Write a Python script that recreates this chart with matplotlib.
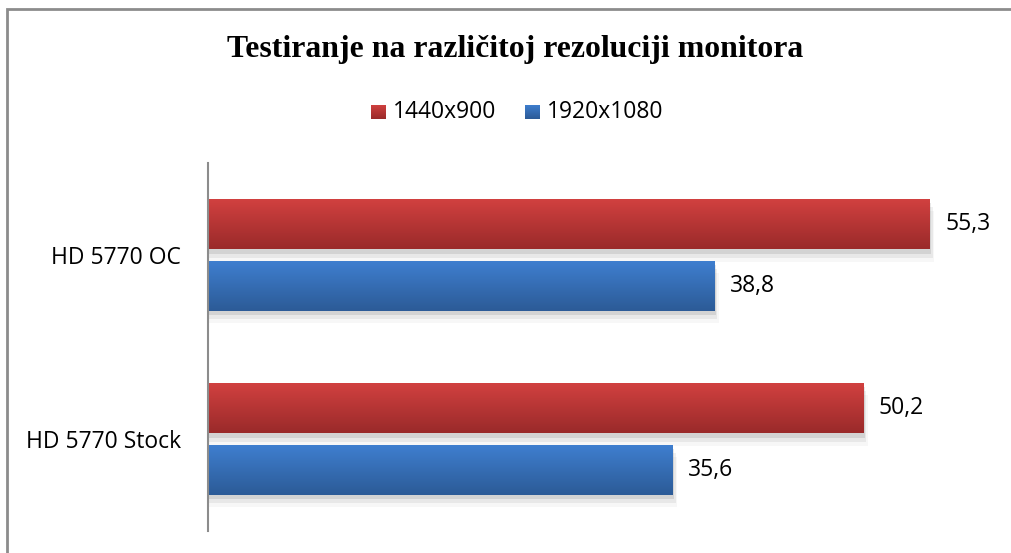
import numpy as np
import matplotlib
matplotlib.use("Agg")
import matplotlib.pyplot as plt
from matplotlib.patches import Rectangle
from matplotlib.colors import LinearSegmentedColormap

categories = ["HD 5770 OC", "HD 5770 Stock"]
series = ["1440x900", "1920x1080"]
res_1440 = [55.3, 50.2]
res_1920 = [38.8, 35.6]
labels_1440 = ["55,3", "50,2"]
labels_1920 = ["38,8", "35,6"]

title = "Testiranje na različitoj rezoluciji monitora"
sans = ["Open Sans", "DejaVu Sans"]
fs = 16.5

red_top, red_bot = "#d24140", "#9a2a2a"
blue_top, blue_bot = "#3f7fd0", "#2c5b97"

fig = plt.figure(figsize=(10.11, 5.53), dpi=100)
fig.patch.set_facecolor("white")

# chart frame (top and left edges visible)
fig.patches.append(Rectangle((7 / 1011, -0.1), 1.2, 1 - 9 / 553 + 0.1,
                             transform=fig.transFigure, fill=False,
                             edgecolor="#8c8c8c", linewidth=2.0))

ax = fig.add_axes([208 / 1011, 1 - 531 / 553, 783 / 1011, 368 / 553])
ax.set_xlim(0, 60)
ax.set_ylim(1.5, -0.5)

bar_h = 0.273
gap = 0.06
y = np.arange(len(categories))


def grad_bar(yc, width, c_top, c_bot):
    cmap = LinearSegmentedColormap.from_list("g", [c_top, c_bot])
    # soft shadow, mostly below the bar
    for k, a in enumerate([0.09, 0.06, 0.03]):
        d = 0.011 * (k + 1)
        sh = Rectangle((0, yc - bar_h / 2 + 2 * d), width + 0.12 * (k + 1), bar_h,
                       facecolor="black", alpha=a, edgecolor="none", zorder=1)
        ax.add_patch(sh)
    rect = Rectangle((0, yc - bar_h / 2), width, bar_h, facecolor="none",
                     edgecolor="none", zorder=2)
    ax.add_patch(rect)
    grad = np.linspace(0, 1, 64).reshape(-1, 1)
    im = ax.imshow(grad, cmap=cmap, aspect="auto",
                   extent=(0, width, yc + bar_h / 2, yc - bar_h / 2),
                   zorder=2, interpolation="bilinear")
    im.set_clip_path(rect)


for i in range(len(categories)):
    yr = y[i] - (bar_h + gap) / 2
    yb = y[i] + (bar_h + gap) / 2
    grad_bar(yr, res_1440[i], red_top, red_bot)
    grad_bar(yb, res_1920[i], blue_top, blue_bot)
    ax.text(res_1440[i] + 1.2, yr, labels_1440[i], va="center", ha="left",
            fontsize=fs, family=sans, color="black")
    ax.text(res_1920[i] + 1.2, yb, labels_1920[i], va="center", ha="left",
            fontsize=fs, family=sans, color="black")

ax.set_xlim(0, 60)
ax.set_ylim(1.5, -0.5)

for s in ["top", "right", "bottom"]:
    ax.spines[s].set_visible(False)
ax.spines["left"].set_color("#8c8c8c")
ax.spines["left"].set_linewidth(1.5)
ax.set_xticks([])
ax.set_yticks(y)
ax.set_yticklabels(categories, family=sans, fontsize=fs)
ax.tick_params(axis="y", length=0, pad=19.5)

fig.text(515 / 1011, 1 - 50 / 553, title, ha="center", va="center",
         family=["Liberation Serif", "DejaVu Serif"], fontweight="bold",
         fontsize=22.9)

# legend
leg_y = 1 - 112 / 553
for x0, tx, c_top, c_bot, name in [(371, 393, red_top, red_bot, series[0]),
                                   (525, 547, blue_top, blue_bot, series[1])]:
    lax = fig.add_axes([x0 / 1011, leg_y - 7.5 / 553, 15 / 1011, 15 / 553])
    lax.imshow(np.linspace(0, 1, 16).reshape(-1, 1),
               cmap=LinearSegmentedColormap.from_list("l", [c_top, c_bot]),
               aspect="auto", interpolation="bilinear")
    lax.axis("off")
    fig.text(tx / 1011, leg_y, name, ha="left", va="center", family=sans,
             fontsize=fs)

fig.savefig("out.png", dpi=100, facecolor="white")
